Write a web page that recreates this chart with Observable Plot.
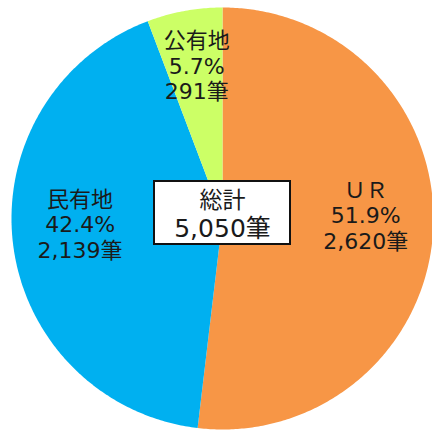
<!DOCTYPE html>
<html><head><meta charset="utf-8">
<script src="https://cdn.jsdelivr.net/npm/d3@7"></script>
<script src="https://cdn.jsdelivr.net/npm/@observablehq/plot@0.6"></script>
<style>body{margin:0;background:#fff}</style>
</head><body><div id="chart"></div>
<script>
// ---- data ----
const categories = ["ＵＲ", "民有地", "公有地"];
const counts = [2620, 2139, 291];
const percents = [51.9, 42.4, 5.7];
const colors = ["#F79646", "#00B0F0", "#CCFF66"];
const totalTitle = "総計";
const totalCount = 5050;
const unit = "筆";

// ---- layout ----
const W = 432, H = 430, cx = 222, cy = 218, R = 211;
const font = "'DejaVu Sans', 'Noto Sans CJK JP', sans-serif";

const arcs = d3.pie().sort(null).value(d => d)(counts);
const wedgePts = [];
arcs.forEach((a, i) => {
  wedgePts.push({cat: categories[i], x: 0, y: 0});
  const n = Math.max(4, Math.ceil((a.endAngle - a.startAngle) / 0.01));
  for (let k = 0; k <= n; k++) {
    const t = a.startAngle + (a.endAngle - a.startAngle) * k / n;
    wedgePts.push({cat: categories[i], x: Math.sin(t), y: Math.cos(t)});
  }
});
const labels = arcs.map((a, i) => {
  const m = (a.startAngle + a.endAngle) / 2;
  return {
    x: 0.68 * Math.sin(m), y: 0.68 * Math.cos(m),
    text: `${categories[i]}\n${percents[i].toFixed(1)}%\n${d3.format(",")(counts[i])}${unit}`
  };
});
const totalData = [{x: 0, y: 0, title: totalTitle, value: `${d3.format(",")(totalCount)}${unit}`}];

const chart = Plot.plot({
  width: W, height: H,
  margin: 0,
  style: {background: "#fff", fontFamily: font},
  x: {domain: [-cx / R, (W - cx) / R], range: [0, W], axis: null},
  y: {domain: [-(H - cy) / R, cy / R], range: [H, 0], axis: null},
  color: {domain: categories, range: colors},
  marks: [
    Plot.line(wedgePts, {x: "x", y: "y", z: "cat", fill: "cat", stroke: null, curve: "linear"}),
    Plot.text(labels, {x: "x", y: "y", text: "text", dy: -12, fontSize: 22, lineHeight: 1.16, fill: "#1a1a1a", fontWeight: 400}),
    Plot.text(totalData, {x: "x", y: "y", text: "title", dy: -18, fontSize: 23, fill: "#1a1a1a", fontWeight: 400, className: "total-label"}),
    Plot.text(totalData, {x: "x", y: "y", text: "value", dy: 10, fontSize: 25, fill: "#1a1a1a", fontWeight: 400, className: "total-label"})
  ]
});
document.getElementById("chart").appendChild(chart);

// draw box behind total label, centred on the pie centre
const tg = chart.querySelector("g.total-label");
if (tg) {
  const px = chart.scale("x").apply(0), py = chart.scale("y").apply(0);
  const w = 136, h = 63;
  const rect = document.createElementNS("http://www.w3.org/2000/svg", "rect");
  rect.setAttribute("x", px - w / 2);
  rect.setAttribute("y", py - 5.5 - h / 2);
  rect.setAttribute("width", w);
  rect.setAttribute("height", h);
  rect.setAttribute("fill", "#fff");
  rect.setAttribute("stroke", "#111");
  rect.setAttribute("stroke-width", 2);
  tg.parentNode.insertBefore(rect, tg);
}
</script>
</body></html>
